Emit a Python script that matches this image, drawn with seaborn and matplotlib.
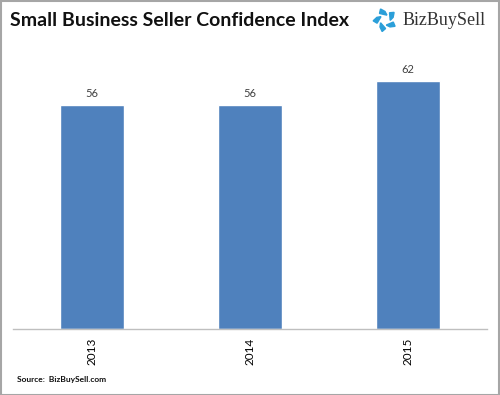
import matplotlib
matplotlib.use("Agg")
import matplotlib.pyplot as plt
import numpy as np
import pandas as pd
import seaborn as sns
from matplotlib.patches import Polygon, Rectangle

years = ["2013", "2014", "2015"]
index_values = [56, 56, 62]

BAR_COLOR = "#4F81BD"
LOGO_COLOR = "#2B9FD9"

sns.set_theme(style="white")
plt.rcParams["font.family"] = ["Lato", "DejaVu Sans"]

df = pd.DataFrame({"year": years, "value": index_values})

fig = plt.figure(figsize=(5, 3.95), dpi=100)
ax = fig.add_axes([0.026, 0.167, 0.948, 0.709])

sns.barplot(data=df, x="year", y="value", color=BAR_COLOR, saturation=1,
            width=0.4, ax=ax)
ax.set_xlim(-0.5, 2.5)
ax.set_ylim(0, 70)

for i, v in enumerate(index_values):
    ax.text(i, v + 1.6, f"{v}", ha="center", va="bottom", fontsize=8, color="#404040")

ax.set_xlabel("")
ax.set_ylabel("")
ax.set_yticks([])
ax.tick_params(axis="x", labelrotation=90, labelsize=8.5, colors="#000000", length=0, pad=6)
for s in ["top", "left", "right"]:
    ax.spines[s].set_visible(False)
ax.spines["bottom"].set_color("#BFBFBF")
ax.spines["bottom"].set_linewidth(1)

# title and source
fig.text(0.020, 0.948, "Small Business Seller Confidence Index", fontsize=14,
         fontweight="bold", ha="left", va="center", color="#111111")
fig.text(0.034, 0.038, "Source:  BizBuySell.com", fontsize=6, fontweight="bold",
         ha="left", va="center", color="#111111")

# logo: ring of blue kites + wordmark
cx, cy, r = 385 / 500, 1 - 20 / 395, 0.019
for k in range(5):
    a = np.deg2rad(90 + k * 72)
    pts = []
    for da, rr in [(-22, 0.55), (0, 0.9), (22, 1.25), (40, 0.9)]:
        ang = a + np.deg2rad(da)
        pts.append((cx + rr * r * np.cos(ang), cy + rr * r * np.sin(ang) * 500 / 395))
    fig.patches.append(Polygon(pts, closed=True, color=LOGO_COLOR,
                               transform=fig.transFigure, figure=fig))
fig.text(0.806, 0.948, "BizBuySell", fontsize=13, family="Liberation Serif",
         ha="left", va="center", color="#333333")

# outer border
fig.patches.append(Rectangle((0.001, 0.001), 0.997, 0.997, fill=False,
                             edgecolor="#A6A6A6", linewidth=1.5,
                             transform=fig.transFigure, figure=fig))

fig.savefig("out.png", dpi=100)
